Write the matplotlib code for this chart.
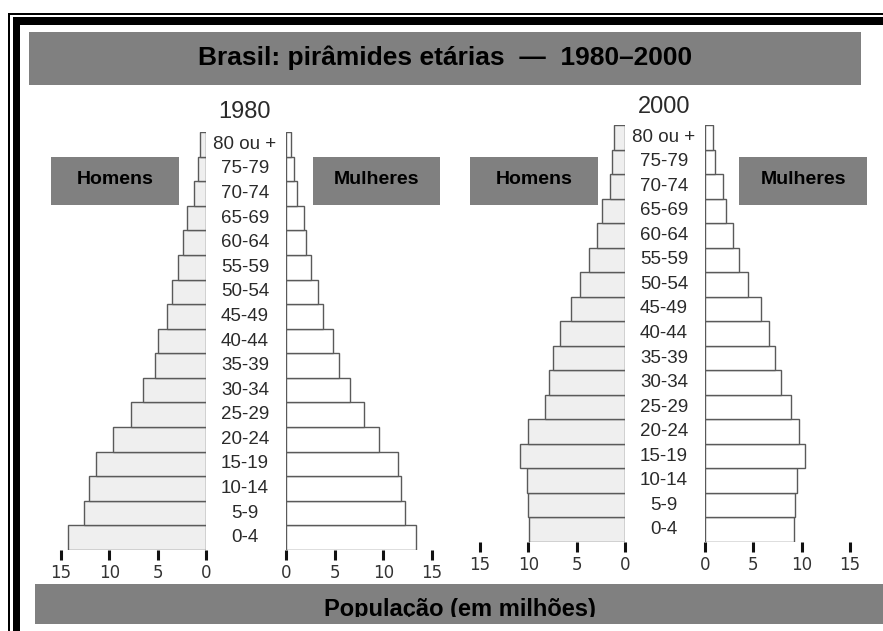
import matplotlib
matplotlib.use("Agg")
import matplotlib.pyplot as plt
import matplotlib.transforms as mtransforms
from matplotlib.patches import Rectangle

# age groups, bottom to top
age_groups = ["0-4", "5-9", "10-14", "15-19", "20-24", "25-29", "30-34", "35-39",
              "40-44", "45-49", "50-54", "55-59", "60-64", "65-69", "70-74", "75-79",
              "80 ou +"]

# population in millions
men_1980 = [14.3, 12.6, 12.1, 11.4, 9.6, 7.8, 6.5, 5.3, 5.0, 4.0, 3.5, 2.9, 2.4, 2.0, 1.2, 0.8, 0.6]
women_1980 = [13.4, 12.2, 11.8, 11.5, 9.6, 8.0, 6.6, 5.4, 4.8, 3.8, 3.3, 2.6, 2.1, 1.8, 1.1, 0.8, 0.5]
men_2000 = [9.9, 10.0, 10.1, 10.9, 10.0, 8.3, 7.9, 7.4, 6.7, 5.6, 4.7, 3.7, 2.9, 2.4, 1.55, 1.3, 1.1]
women_2000 = [9.2, 9.3, 9.5, 10.3, 9.7, 8.9, 7.9, 7.2, 6.6, 5.8, 4.4, 3.5, 2.9, 2.2, 1.85, 1.05, 0.85]

x_ticks = [0, 5, 10, 15]

W, H = 883, 631
fig = plt.figure(figsize=(W / 100, H / 100), dpi=100)
fig.patch.set_facecolor("white")

SANS = ["Liberation Sans", "DejaVu Sans"]
GRAY_BOX = "#808080"

# overlay in pixel coordinates for frame, boxes and headings
ov = fig.add_axes([0, 0, 1, 1], zorder=0)
ov.set_xlim(0, W)
ov.set_ylim(H, 0)
ov.axis("off")

# scanned page frame (top and left only)
for (x, y, w, h) in [(8, 13, 1.6, H), (8, 13, W, 1.6), (13, 17, 7, H), (13, 17, W, 8)]:
    ov.add_patch(Rectangle((x, y), w, h, facecolor="black", edgecolor="none"))

# title bar
ov.add_patch(Rectangle((29, 32), 832, 53, facecolor=GRAY_BOX, edgecolor="none"))
ov.text(445, 58, "Brasil: pirâmides etárias  —  1980–2000", ha="center", va="center",
        fontsize=19, fontweight="bold", family=SANS, color="black")

# bottom bar; the scan cuts the text just under its baseline
ov.add_patch(Rectangle((35, 584), W - 35, 40, facecolor=GRAY_BOX, edgecolor="none"))
t = ov.text(460, 616, "População (em milhões)", ha="center", va="baseline",
            fontsize=17, fontweight="bold", family=SANS, color="black")
t.set_clip_box(mtransforms.TransformedBbox(
    mtransforms.Bbox.from_extents(35, 584, W, 617), ov.transData))
t.set_clip_on(True)

# sex label boxes
for (x0, x1, label) in [(51, 179, "Homens"), (313, 440, "Mulheres"),
                        (470, 598, "Homens"), (739, 867, "Mulheres")]:
    ov.add_patch(Rectangle((x0, 157), x1 - x0, 48, facecolor=GRAY_BOX, edgecolor="none"))
    ov.text((x0 + x1) / 2, 180, label, ha="center", va="center",
            fontsize=14, fontweight="bold", family=SANS, color="black")


def px_axes(x0, y0, x1, y1):
    ax = fig.add_axes([x0 / W, 1 - y1 / H, (x1 - x0) / W, (y1 - y0) / H], zorder=2)
    ax.patch.set_visible(False)
    return ax


def draw_side(ax, values, face, inverted):
    ypos = list(range(len(age_groups)))
    ax.barh(ypos, values, height=1.0, left=0, color=face,
            edgecolor="#5a5a5a", linewidth=1.0)
    ax.set_ylim(-0.5, len(age_groups) - 0.5)
    if inverted:
        ax.set_xlim(15, 0)
    else:
        ax.set_xlim(0, 15)
    ax.set_xticks(x_ticks)
    ax.set_xticklabels([str(v) for v in x_ticks])
    ax.set_yticks([])
    for s in ax.spines.values():
        s.set_visible(False)
    ax.tick_params(axis="x", direction="out", length=7, width=2.2, color="#111111",
                   pad=3, labelsize=12, labelcolor="#333333")


def pyramid(year, men, women, m_px, f_px, y_top, y_bot, label_x, year_y):
    ax_m = px_axes(m_px[0], y_top, m_px[1], y_bot)
    ax_f = px_axes(f_px[0], y_top, f_px[1], y_bot)
    draw_side(ax_m, men, "#efefef", True)
    draw_side(ax_f, women, "white", False)

    # age labels in the middle column
    tr = mtransforms.blended_transform_factory(ov.transData, ax_m.transData)
    for i, lab in enumerate(age_groups):
        fig.text(label_x, i, lab, transform=tr, ha="center", va="center",
                 fontsize=13.5, family=SANS, color="#2a2a2a")
    ov.text(label_x, year_y, year, ha="center", va="center",
            fontsize=17, family=SANS, color="#2a2a2a")


pyramid("1980", men_1980, women_1980, (61, 206), (286, 432), 132, 550, 245, 112)
pyramid("2000", men_2000, women_2000, (480, 625), (705, 850), 125, 542, 664, 107)

fig.savefig("out.png", dpi=100, facecolor=fig.get_facecolor())
